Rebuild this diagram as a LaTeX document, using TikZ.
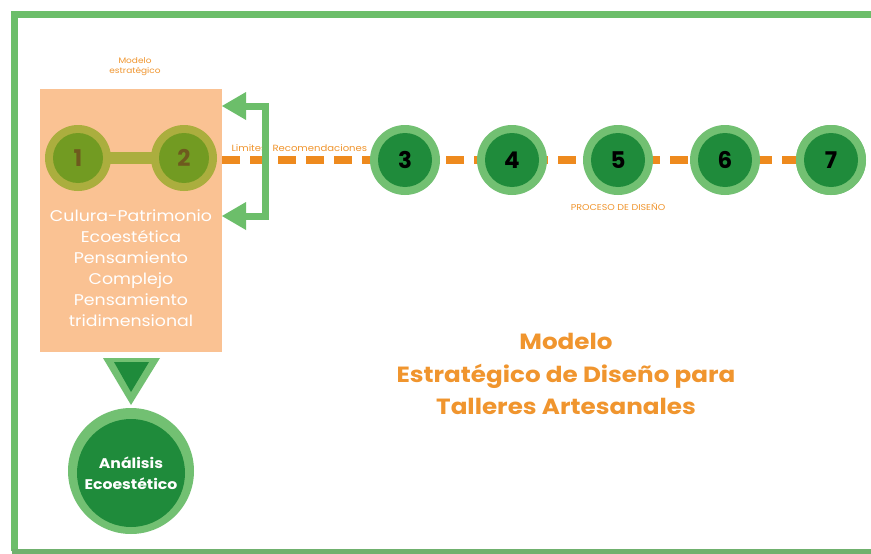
\documentclass[tikz,border=0pt]{standalone}
\usepackage{fontspec}
\setmainfont{Poppins}
\newfontfamily\widefont{Poppins}[FakeStretch=1.12]
\definecolor{frameg}{HTML}{6CBE6A}
\definecolor{lightg}{HTML}{72C072}
\definecolor{darkg}{HTML}{1F8B3B}
\definecolor{olive}{HTML}{ABAE3E}
\definecolor{olivein}{HTML}{729B22}
\definecolor{olivetxt}{HTML}{6E5A1E}
\definecolor{peach}{HTML}{FAC293}
\definecolor{orangel}{HTML}{EE8A1E}
\definecolor{orangetxt}{HTML}{F0952E}
\tikzset{
  stepring/.style={circle, fill=lightg, minimum size=70pt, inner sep=0pt},
  stepcore/.style={circle, fill=darkg, minimum size=54pt, inner sep=0pt, font=\bfseries\fontsize{23}{23}\selectfont, text=black},
  oring/.style={circle, fill=olive, minimum size=66pt, inner sep=0pt},
  ocore/.style={circle, fill=olivein, minimum size=50pt, inner sep=0pt, font=\bfseries\fontsize{23}{23}\selectfont, text=olivetxt},
  smalltxt/.style={font=\widefont\fontsize{8}{10}\selectfont, text=orangetxt, align=center},
  boxtxt/.style={font=\widefont\fontsize{15.5}{21}\selectfont, text=white, align=center},
  dashline/.style={draw=orangel, line width=8pt, dash pattern=on 18pt off 10pt},
  bracket/.style={draw=frameg, line width=7pt},
}
\begin{document}
\begin{tikzpicture}[x=1pt,y=-1pt]
\useasboundingbox (0,0) rectangle (871,554);
\fill[white] (0,0) rectangle (871,554);
% frame
\draw[frameg, line width=7pt] (14,551) -- (14,14) -- (880,14);
\draw[frameg!80!gray, line width=5pt] (12,551) -- (871,551);
% peach box
\fill[peach] (40,89) rectangle (222,352);
\node[smalltxt] (ms) at (135,67) {Modelo\\estratégico};
% dashed line
\coordinate (dstart) at (222,160);
\node[stepring] (r7) at (831,160) {};
\draw[dashline] (dstart) -- (r7.center);
% olive circles
\node[oring] (o1) at (78,158) {};
\node[oring] (o2) at (184,158) {};
\draw[olive, line width=12pt] (o1.center) -- (o2.center);
\node[ocore] (c1) at (78,158) {1};
\node[ocore] (c2) at (184,158) {2};
% step circles
\foreach \n/\x in {3/405,4/512,5/618,6/725,7/831}{
  \node[stepring] (s\n) at (\x,160) {};
  \node[stepcore] (k\n) at (\x,160) {\n};
}
% labels
\node[smalltxt, font=\widefont\fontsize{9}{10}\selectfont, anchor=west] (lim) at (228,148) {Limites};
\node[smalltxt, font=\widefont\fontsize{9}{10}\selectfont, anchor=west] (rec) at (269,148) {Recomendaciones};
\node[smalltxt, font=\widefont\fontsize{8.5}{10}\selectfont] (pd) at (618,207) {PROCESO DE DISEÑO};
% bracket arrows
\coordinate (bt) at (265,106);
\coordinate (bb) at (265,216);
\draw[bracket] (bt) -- (bb);
\coordinate (ta) at (222,106);
\coordinate (ba) at (222,216);
\draw[bracket] ([xshift=3.5pt]bt) -- (242,106);
\draw[bracket] ([xshift=3.5pt]bb) -- (242,216);
\fill[frameg] (ta) -- (246,92) -- (246,120) -- cycle;
\fill[frameg] (ba) -- (246,202) -- (246,230) -- cycle;
% box text
\node[boxtxt] (bx) at (131,268) {Culura-Patrimonio\\Ecoestética\\Pensamiento\\Complejo\\Pensamiento\\tridimensional};
% triangle
\fill[lightg] (103,358) -- (160,358) -- (131,405) -- cycle;
\fill[darkg] (114,362) -- (149,362) -- (131,392) -- cycle;
% analysis circle
\node[circle, fill=lightg, minimum size=126pt, inner sep=0pt] (ar) at (131,471) {};
\node[circle, fill=darkg, minimum size=108pt, inner sep=0pt, text=white, font=\widefont\bfseries\fontsize{14}{21}\selectfont, align=center] (ac) at (131,473) {Análisis\\Ecoestético};
% title
\node[text=orangetxt, font=\widefont\bfseries\fontsize{22}{32.5}\selectfont, align=center] (title) at (566,374) {Modelo\\Estratégico de Diseño para\\Talleres Artesanales};
\end{tikzpicture}
\end{document}
